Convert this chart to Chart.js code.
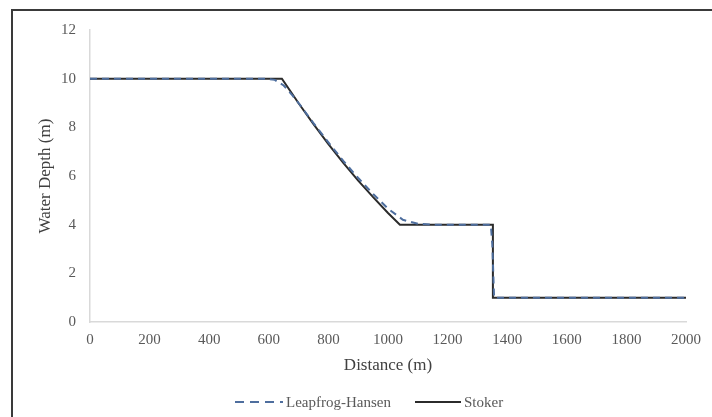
<!DOCTYPE html>
<html>
<head>
<meta charset="utf-8">
<script src="https://cdn.jsdelivr.net/npm/chart.js@4"></script>
<style>
  html, body { margin: 0; padding: 0; background: #fff; }
  #wrap { position: relative; width: 712px; height: 417px; overflow: hidden; background: #fff; }
  #frame { position: absolute; left: 11px; top: 9px; width: 720px; height: 420px;
           border-top: 2px solid #3a3a3a; border-left: 2px solid #3a3a3a; pointer-events: none; }
  canvas { position: absolute; left: 0; top: 0; }
  #legend { position: absolute; top: 392px; left: 0; width: 712px; height: 20px;
            font-family: "Liberation Serif", "Times New Roman", serif; font-size: 15px; color: #595959; }
  .item { position: absolute; top: 0; display: flex; align-items: center; height: 20px; white-space: nowrap; }
  .item svg { margin-right: 3px; }
</style>
</head>
<body>
<div id="wrap">
  <canvas id="c" width="712" height="417"></canvas>
  <div id="frame"></div>
  <div id="legend">
    <div class="item" style="left:235px">
      <svg width="48" height="10"><line x1="0" y1="5" x2="48" y2="5" stroke="#4e6e9e" stroke-width="2" stroke-dasharray="9,6"/></svg>
      <span>Leapfrog-Hansen</span>
    </div>
    <div class="item" style="left:415px">
      <svg width="46" height="10"><line x1="0" y1="5" x2="46" y2="5" stroke="#2b2b2b" stroke-width="2"/></svg>
      <span>Stoker</span>
    </div>
  </div>
</div>
<script>
// ---- data ----
const seriesNames = ["Leapfrog-Hansen", "Stoker"];
const xTicks = [0, 200, 400, 600, 800, 1000, 1200, 1400, 1600, 1800, 2000];
const yTicks = [0, 2, 4, 6, 8, 10, 12];

const stokerX = [0, 644, 700, 750, 800, 850, 900, 950, 1000, 1040, 1352, 1352, 2000];
const stokerY = [10, 10, 8.99, 8.13, 7.31, 6.54, 5.81, 5.13, 4.48, 4, 4, 1, 1];

const leapX = [0, 590, 620, 650, 680, 700, 750, 800, 850, 900, 950, 1000, 1050, 1100, 1150, 1345, 1350, 1356, 2000];
const leapY = [10, 10, 9.95, 9.72, 9.3, 9.0, 8.17, 7.38, 6.62, 5.92, 5.26, 4.66, 4.2, 4.04, 4.0, 4.0, 3.2, 1.0, 1.0];

const toPoints = (xs, ys) => xs.map((x, i) => ({ x: x, y: ys[i] }));

const serif = "'Liberation Serif', 'Times New Roman', serif";

new Chart(document.getElementById('c'), {
  type: 'line',
  data: {
    datasets: [
      {
        label: seriesNames[0],
        data: toPoints(leapX, leapY),
        borderColor: '#4e6e9e',
        borderWidth: 2,
        borderDash: [7, 5],
        pointRadius: 0,
        tension: 0,
        fill: false
      },
      {
        label: seriesNames[1],
        data: toPoints(stokerX, stokerY),
        borderColor: '#2b2b2b',
        borderWidth: 2,
        pointRadius: 0,
        tension: 0,
        fill: false
      }
    ]
  },
  options: {
    responsive: false,
    animation: false,
    events: [],
    layout: { padding: { left: 35, right: 26, top: 30, bottom: 41 } },
    plugins: { legend: { display: false }, tooltip: { enabled: false } },
    scales: {
      x: {
        type: 'linear',
        min: 0, max: 2000,
        afterBuildTicks: (s) => { s.ticks = xTicks.map(v => ({ value: v })); },
        afterFit: (s) => { s.height = 54; },
        grid: { display: false, drawTicks: false },
        border: { display: true, color: '#d9d9d9', width: 1.5 },
        ticks: { color: '#595959', font: { family: serif, size: 15 }, padding: 9, maxRotation: 0,
                 callback: (v) => String(v) },
        title: { display: true, text: 'Distance (m)', color: '#404040', font: { family: serif, size: 17 }, padding: 0 }
      },
      y: {
        type: 'linear',
        min: 0, max: 12,
        afterBuildTicks: (s) => { s.ticks = yTicks.map(v => ({ value: v })); },
        afterFit: (s) => { s.width = 55; },
        grid: { display: false, drawTicks: false },
        border: { display: true, color: '#d9d9d9', width: 1.5 },
        ticks: { color: '#595959', font: { family: serif, size: 15 }, padding: 14,
                 callback: (v) => String(v) },
        title: { display: true, text: 'Water Depth (m)', color: '#404040', font: { family: serif, size: 17 }, padding: 0 }
      }
    }
  }
});
</script>
</body>
</html>
